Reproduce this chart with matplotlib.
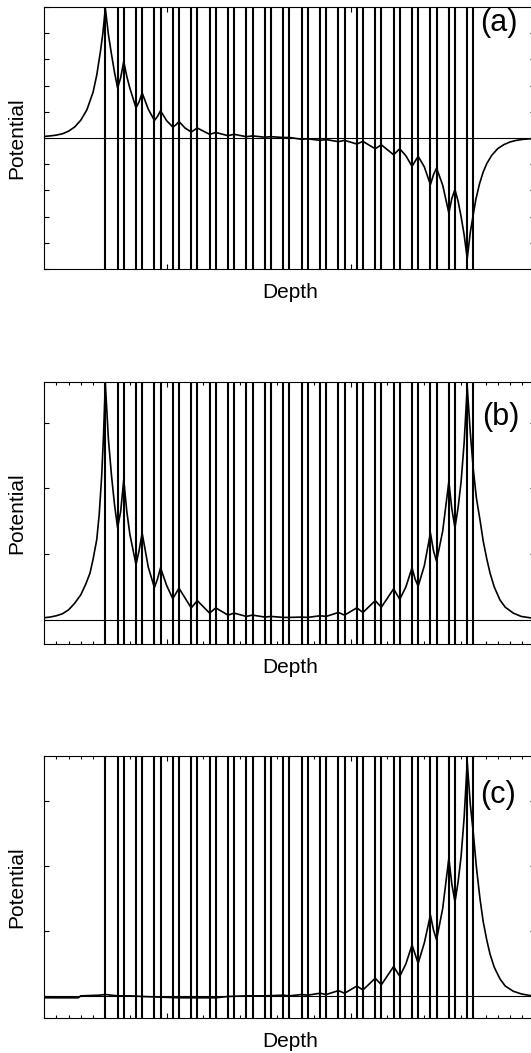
import matplotlib
matplotlib.use('Agg')
import matplotlib.pyplot as plt
from matplotlib.ticker import MultipleLocator, FixedLocator

plt.rcParams['font.family'] = ['Liberation Sans', 'DejaVu Sans']

# layer boundaries (depth units)
boundaries = [50, 60, 65, 75, 80, 90, 95, 105, 110, 120, 125, 135, 140, 150, 155,
              165, 170, 180, 185, 195, 200, 210, 215, 225, 230, 240, 245, 255, 260,
              270, 275, 285, 290, 300, 305, 315, 320, 330, 335, 345, 350]

# panel (a)
depth_a = [0, 5, 10, 15, 20, 25, 30, 35, 40, 43, 46, 48, 50, 52.5, 55, 57.5, 60,
           62.5, 65, 67.5, 70, 75, 77.5, 80, 85, 90, 92.5, 95, 100, 105, 107.5, 110,
           115, 120, 125, 135, 140, 150, 155, 165, 170, 180, 185, 195, 200, 210, 215,
           225, 230, 240, 245, 255, 260, 270, 275, 285, 290, 295, 300, 305, 310, 315,
           317.5, 320, 325, 330, 332.5, 335, 337.5, 340, 342.5, 345, 347.5, 350, 352,
           355, 358, 361, 365, 370, 375, 380, 385, 390, 395, 400]
pot_a = [0.06, 0.08, 0.11, 0.16, 0.26, 0.42, 0.68, 1.08, 1.75, 2.4, 3.3, 4.0, 4.95,
         3.95, 3.2, 2.5, 1.91, 2.3, 2.92, 2.35, 1.9, 1.15, 1.38, 1.72, 1.1, 0.67,
         0.82, 1.04, 0.66, 0.42, 0.5, 0.63, 0.38, 0.23, 0.38, 0.14, 0.21, 0.09, 0.14,
         0.05, 0.08, 0.03, 0.05, 0.02, 0.02, -0.05, -0.03, -0.09, -0.06, -0.14,
         -0.09, -0.23, -0.13, -0.41, -0.26, -0.64, -0.41, -0.68, -1.08, -0.70, -1.1,
         -1.78, -1.4, -1.15, -1.8, -2.86, -2.3, -1.97, -2.4, -3.0, -3.7, -4.6, -3.6,
         -2.9, -2.35, -1.75, -1.3, -0.97, -0.66, -0.40, -0.25, -0.15, -0.09, -0.055,
         -0.035, -0.02]

# panel (b)
depth_b = [0, 5, 10, 15, 20, 25, 30, 34, 37.5, 40, 43, 45, 47, 48.5, 50, 52.5, 55,
           57.5, 60, 62.5, 65, 67.5, 70, 75, 77.5, 80, 85, 90, 92.5, 95, 100, 105,
           110, 120, 125, 135, 140, 150, 155, 165, 170, 180, 185, 195, 200, 210, 215,
           225, 230, 240, 245, 255, 260, 270, 275, 285, 290, 295, 300, 302.5, 305,
           310, 315, 317.5, 320, 325, 330, 332.5, 335, 337.5, 340, 342.5, 345, 347.5,
           350, 352.5, 355.4, 358, 361, 363.6, 367, 371.7, 376, 382.6, 389, 396, 400]
pot_b = [0.03, 0.04, 0.06, 0.09, 0.15, 0.25, 0.38, 0.54, 0.71, 0.92, 1.22, 1.6,
         2.18, 2.8, 3.6, 2.75, 2.2, 1.75, 1.40, 1.65, 2.13, 1.65, 1.3, 0.84, 1.05,
         1.32, 0.8, 0.49, 0.62, 0.79, 0.52, 0.32, 0.48, 0.18, 0.29, 0.10, 0.18, 0.07,
         0.10, 0.05, 0.07, 0.04, 0.05, 0.035, 0.035, 0.04, 0.035, 0.06, 0.05, 0.11,
         0.07, 0.18, 0.11, 0.29, 0.19, 0.47, 0.31, 0.5, 0.79, 0.62, 0.51, 0.82, 1.32,
         1.05, 0.89, 1.35, 2.10, 1.68, 1.40, 1.7, 2.1, 2.7, 3.55, 2.85, 2.28, 1.85,
         1.52, 1.2, 0.92, 0.71, 0.5, 0.30, 0.19, 0.10, 0.05, 0.03, 0.02]

# panel (c)
depth_c = [0, 28, 30, 45, 50, 55, 60, 70, 80, 110, 140, 150, 165, 180, 195, 200, 210,
           215, 225, 230, 240, 245, 255, 260, 270, 275, 285, 290, 295, 300, 305, 310,
           315, 317.5, 320, 325, 330, 332.5, 335, 337.5, 340, 342.5, 345, 347.5, 350,
           352.5, 355.4, 358, 361, 363.6, 367, 371.7, 376, 382.6, 389, 396, 400]
pot_c = [-0.02, -0.02, 0.01, 0.02, 0.03, 0.02, 0.01, 0.01, 0.0, -0.02, -0.02, 0.0,
         0.01, 0.01, 0.02, 0.01, 0.03, 0.02, 0.05, 0.03, 0.09, 0.05, 0.16, 0.10, 0.28,
         0.18, 0.46, 0.31, 0.5, 0.79, 0.51, 0.82, 1.25, 1.02, 0.87, 1.35, 2.12, 1.72,
         1.45, 1.75, 2.15, 2.75, 3.6, 2.95, 2.5, 1.98, 1.5, 1.15, 0.86, 0.65, 0.45,
         0.27, 0.16, 0.08, 0.04, 0.015, 0.01]

panels = [
    (depth_a, pot_a, (-5, 5), '(a)', (0.927, 0.939), False),
    (depth_b, pot_b, (-0.37, 3.62), '(b)', (0.93, 0.868), True),
    (depth_c, pot_c, (-0.33, 3.69), '(c)', (0.925, 0.851), True),
]
tops = [7, 382, 756]
W, H = 531, 1053
left_px, right_px, ax_h = 44, 534.7, 262

fig = plt.figure(figsize=(W / 100, H / 100), dpi=100)
for (x, y, ylim, tag, tagpos, minor), top in zip(panels, tops):
    ax = fig.add_axes([left_px / W, 1 - (top + ax_h) / H,
                       (right_px - left_px) / W, ax_h / H])
    for b in boundaries:
        ax.axvline(b, color='black', lw=1.5)
    ax.axhline(0, color='black', lw=0.8)
    ax.plot(x, y, color='black', lw=1.2)
    ax.set_xlim(0, 400)
    ax.set_ylim(*ylim)
    ax.xaxis.set_major_locator(FixedLocator([100, 250]))
    if minor:
        ax.xaxis.set_minor_locator(MultipleLocator(10))
    ax.yaxis.set_major_locator(MultipleLocator(1))
    ax.tick_params(which='both', direction='in', top=True, right=True,
                   labelbottom=False, labelleft=False, width=0.8)
    ax.tick_params(which='major', length=3.5)
    ax.tick_params(which='minor', length=2.5)
    for s in ax.spines.values():
        s.set_linewidth(0.8)
    ax.set_xlabel('Depth', fontsize=15)
    ax.xaxis.set_label_coords((290 - left_px) / (right_px - left_px), -14 / ax_h)
    ax.xaxis.label.set_va('top')
    ax.set_ylabel('Potential', fontsize=15, va='center')
    ax.yaxis.set_label_coords((17 - left_px) / (right_px - left_px), 0.5)
    ax.text(tagpos[0], tagpos[1], tag, transform=ax.transAxes, fontsize=22,
            ha='center', va='center')

fig.savefig('out.png', dpi=100)
